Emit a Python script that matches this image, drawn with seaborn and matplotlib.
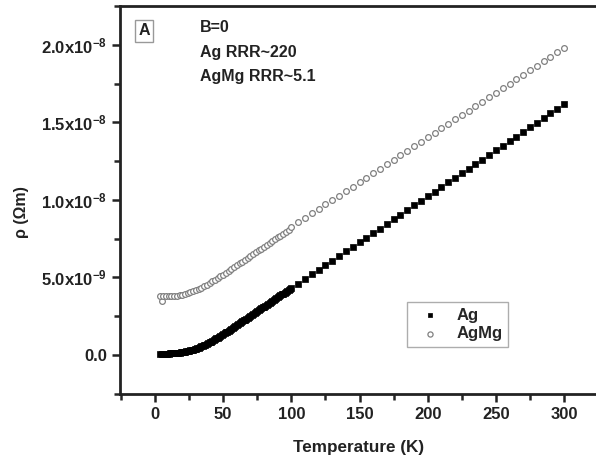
import matplotlib
matplotlib.use("Agg")
import matplotlib.pyplot as plt
import seaborn as sns
import pandas as pd
from matplotlib.ticker import FixedLocator, MultipleLocator

# ---- data (resistivity in units of 1e-9 Ohm m) ----
ag_T = list(range(4, 101)) + [
    105, 110, 115, 120, 125, 130, 135, 140, 145, 150, 155, 160, 165, 170, 175,
    180, 185, 190, 195, 200, 205, 210, 215, 220, 225, 230, 235, 240, 245, 250,
    255, 260, 265, 270, 275, 280, 285, 290, 295, 300]
ag_rho = [0.08, 0.08, 0.08, 0.08, 0.08, 0.09, 0.09, 0.10, 0.10, 0.11, 0.11, 0.12,
          0.13, 0.14, 0.15, 0.16, 0.18, 0.19, 0.21, 0.23, 0.25, 0.27, 0.29, 0.31,
          0.34, 0.37, 0.40, 0.43, 0.47, 0.51, 0.55, 0.59, 0.63, 0.67, 0.72, 0.76,
          0.81, 0.86, 0.91, 0.96, 1.01, 1.06, 1.12, 1.17, 1.23, 1.28, 1.34, 1.39,
          1.45, 1.50, 1.56, 1.62, 1.68, 1.74, 1.80, 1.86, 1.92, 1.98, 2.04, 2.10,
          2.16, 2.22, 2.28, 2.34, 2.40, 2.46, 2.52, 2.58, 2.64, 2.70, 2.76, 2.82,
          2.88, 2.94, 3.00, 3.06, 3.12, 3.18, 3.24, 3.30, 3.36, 3.42, 3.48, 3.54,
          3.60, 3.66, 3.72, 3.78, 3.84, 3.90, 3.96, 4.02, 4.08, 4.14, 4.20, 4.25,
          4.30,
          4.60, 4.89, 5.19, 5.49, 5.78, 6.08, 6.38, 6.67, 6.97, 7.27, 7.56, 7.86,
          8.15, 8.45, 8.75, 9.04, 9.34, 9.64, 9.93, 10.23, 10.53, 10.82, 11.12,
          11.42, 11.71, 12.01, 12.31, 12.60, 12.90, 13.19, 13.49, 13.79, 14.08,
          14.38, 14.68, 14.97, 15.27, 15.57, 15.86, 16.16]

agmg_T = [5, 4, 6, 8, 10, 12, 14, 16, 18, 20, 22, 24, 26, 28, 30, 32, 34, 36, 38, 40,
          42, 44, 46, 48, 50, 52, 54, 56, 58, 60, 62, 64, 66, 68, 70, 72, 74, 76, 78,
          80, 82, 84, 86, 88, 90, 92, 94, 96, 98, 100,
          105, 110, 115, 120, 125, 130, 135, 140, 145, 150, 155, 160, 165, 170, 175,
          180, 185, 190, 195, 200, 205, 210, 215, 220, 225, 230, 235, 240, 245, 250,
          255, 260, 265, 270, 275, 280, 285, 290, 295, 300]
agmg_rho = [3.45, 3.80, 3.78, 3.78, 3.79, 3.80, 3.81, 3.83, 3.86, 3.89, 3.93, 3.98,
            4.04, 4.10, 4.17, 4.25, 4.34, 4.43, 4.53, 4.63, 4.74, 4.85, 4.96, 5.07,
            5.18, 5.30, 5.42, 5.54, 5.66, 5.78, 5.90, 6.02, 6.14, 6.26, 6.38, 6.50,
            6.62, 6.74, 6.86, 6.98, 7.10, 7.22, 7.34, 7.46, 7.58, 7.70, 7.82, 7.94,
            8.06, 8.22,
            8.54, 8.83, 9.12, 9.41, 9.70, 9.98, 10.27, 10.56, 10.85, 11.14, 11.43,
            11.72, 12.01, 12.30, 12.59, 12.87, 13.16, 13.45, 13.74, 14.03, 14.32,
            14.61, 14.90, 15.19, 15.48, 15.76, 16.05, 16.34, 16.63, 16.92, 17.21,
            17.50, 17.79, 18.08, 18.37, 18.65, 18.94, 19.23, 19.52, 19.81]

x_ticks = [0, 50, 100, 150, 200, 250, 300]
y_ticks = [0.0, 5e-9, 1.0e-8, 1.5e-8, 2.0e-8]
y_tick_labels = ["0.0", "5.0x10$^{-9}$", "1.0x10$^{-8}$", "1.5x10$^{-8}$", "2.0x10$^{-8}$"]
notes = ["B=0", "Ag RRR~220", "AgMg RRR~5.1"]

sns.set_style("ticks")
plt.rcParams["font.family"] = ["Liberation Sans", "DejaVu Sans"]
plt.rcParams["mathtext.fontset"] = "custom"
plt.rcParams["mathtext.rm"] = "Liberation Sans:bold"
plt.rcParams["mathtext.bf"] = "Liberation Sans:bold"
plt.rcParams["mathtext.default"] = "bf"

df_ag = pd.DataFrame({"T": ag_T, "rho": [v * 1e-9 for v in ag_rho]})
df_agmg = pd.DataFrame({"T": agmg_T, "rho": [v * 1e-9 for v in agmg_rho]})

fig = plt.figure(figsize=(5.96, 4.58), dpi=100)
ax = fig.add_axes([120 / 596, (458 - 394) / 458, 485 / 596, 388 / 458])

sns.scatterplot(data=df_agmg, x="T", y="rho", ax=ax, marker="o", s=17,
                facecolor="white", edgecolor="#808080", linewidth=0.9,
                label="AgMg", zorder=3)
sns.scatterplot(data=df_ag, x="T", y="rho", ax=ax, marker="s", s=13,
                color="black", edgecolor="black", linewidth=0.5,
                label="Ag", zorder=4)

ax.set_xlim(-25.7, 330)
ax.set_ylim(-2.52e-9, 2.25e-8)

ax.xaxis.set_major_locator(FixedLocator(x_ticks))
ax.xaxis.set_minor_locator(MultipleLocator(25))
ax.yaxis.set_major_locator(FixedLocator(y_ticks))
ax.yaxis.set_minor_locator(MultipleLocator(2.5e-9))
ax.set_yticklabels(y_tick_labels)

ax.tick_params(axis="both", which="major", direction="out", length=6, width=1.8,
               labelsize=12, colors="#222222")
ax.tick_params(axis="both", which="minor", direction="out", length=4, width=1.8)
for lab in ax.get_xticklabels() + ax.get_yticklabels():
    lab.set_fontweight("bold")
for sp in ax.spines.values():
    sp.set_linewidth(2.0)
    sp.set_color("#222222")

ax.set_xlabel("Temperature (K)", fontsize=12.3, fontweight="bold", color="#222222")
ax.xaxis.set_label_coords((359 - 120) / 485, -0.118)
ax.set_ylabel("ρ (Ωm)", fontsize=11.5, fontweight="bold", color="#222222")
ax.yaxis.set_label_coords((29 - 120) / 485, (394 - 212) / 388)

ax.text(0.038, 0.955, "A", transform=ax.transAxes, fontsize=11.5, fontweight="bold",
        va="top", ha="left", color="#222222",
        bbox=dict(boxstyle="square,pad=0.2", facecolor="white", edgecolor="#999999",
                  linewidth=1.0))
for i, t in enumerate(notes):
    ax.text((200 - 120) / 485, (394 - 28 - 24 * i) / 388, t, transform=ax.transAxes,
            fontsize=11.5, fontweight="bold", va="center", ha="left", color="#222222")

handles, labels = ax.get_legend_handles_labels()
order = [labels.index("Ag"), labels.index("AgMg")]
leg = ax.legend([handles[i] for i in order], [labels[i] for i in order],
                loc="upper left", bbox_to_anchor=((407 - 120) / 485, (394 - 302) / 388),
                borderaxespad=0, frameon=True, fancybox=False, edgecolor="#999999",
                prop={"weight": "bold", "size": 12}, handletextpad=0.6,
                borderpad=0.35, labelspacing=0.2, markerscale=0.9)
leg.get_frame().set_linewidth(1.0)

fig.savefig("out.png", dpi=100)
